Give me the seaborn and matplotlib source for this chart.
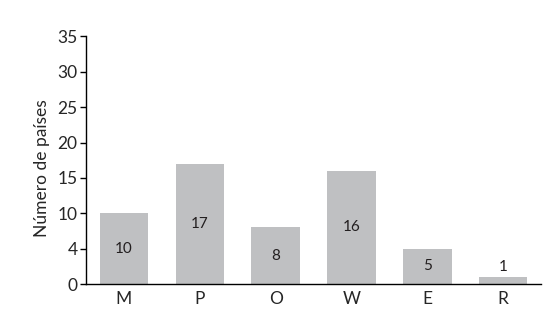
import matplotlib
matplotlib.use('Agg')
import matplotlib.pyplot as plt
import numpy as np
import pandas as pd
import seaborn as sns

categories = ['M', 'P', 'O', 'W', 'E', 'R']
values = [10, 17, 8, 16, 5, 1]
y_ticks = [0, 5, 10, 15, 20, 25, 30, 35]
y_tick_labels = ['0', '4', '10', '15', '20', '25', '30', '35']

sns.set_style('white')
plt.rcParams['font.family'] = ['Lato', 'DejaVu Sans']

df = pd.DataFrame({'cat': categories, 'n': values})

fig = plt.figure(figsize=(5.55, 3.25), dpi=100)
ax = fig.add_axes([0.155, 0.126, 0.82, 0.762])
sns.barplot(data=df, x='cat', y='n', color='#bfc0c2', saturation=1,
            width=0.64, linewidth=0, ax=ax)

# value labels inside bars (at half height, kept above tiny bars)
for i, v in enumerate(values):
    ax.text(i, max(v / 2, 2.4), str(v), ha='center', va='center',
            fontsize=11, color='#231f20')

ax.set_xlim(-0.5, len(categories) - 0.5)
ax.set_ylim(0, 35)
ax.set_yticks(y_ticks)
ax.set_yticklabels(y_tick_labels, fontsize=12.5)
ax.set_xticks(np.arange(len(categories)))
ax.set_xticklabels(categories, fontsize=12.5)
ax.set_xticks(np.arange(len(categories) + 1) - 0.5, minor=True)
ax.tick_params(axis='x', which='major', length=0, pad=5)
ax.tick_params(axis='x', which='minor', length=4, width=1, direction='out',
               color='black')
ax.tick_params(axis='y', length=4, width=1, direction='out', color='black',
               pad=2, left=True)
ax.set_xlabel('')
ax.set_ylabel('Número de países', fontsize=12.5)
ax.yaxis.set_label_coords(-0.08, 0.47)

sns.despine(ax=ax)
for side in ['left', 'bottom']:
    ax.spines[side].set_color('black')
    ax.spines[side].set_linewidth(1)

fig.savefig('out.png', dpi=100)
